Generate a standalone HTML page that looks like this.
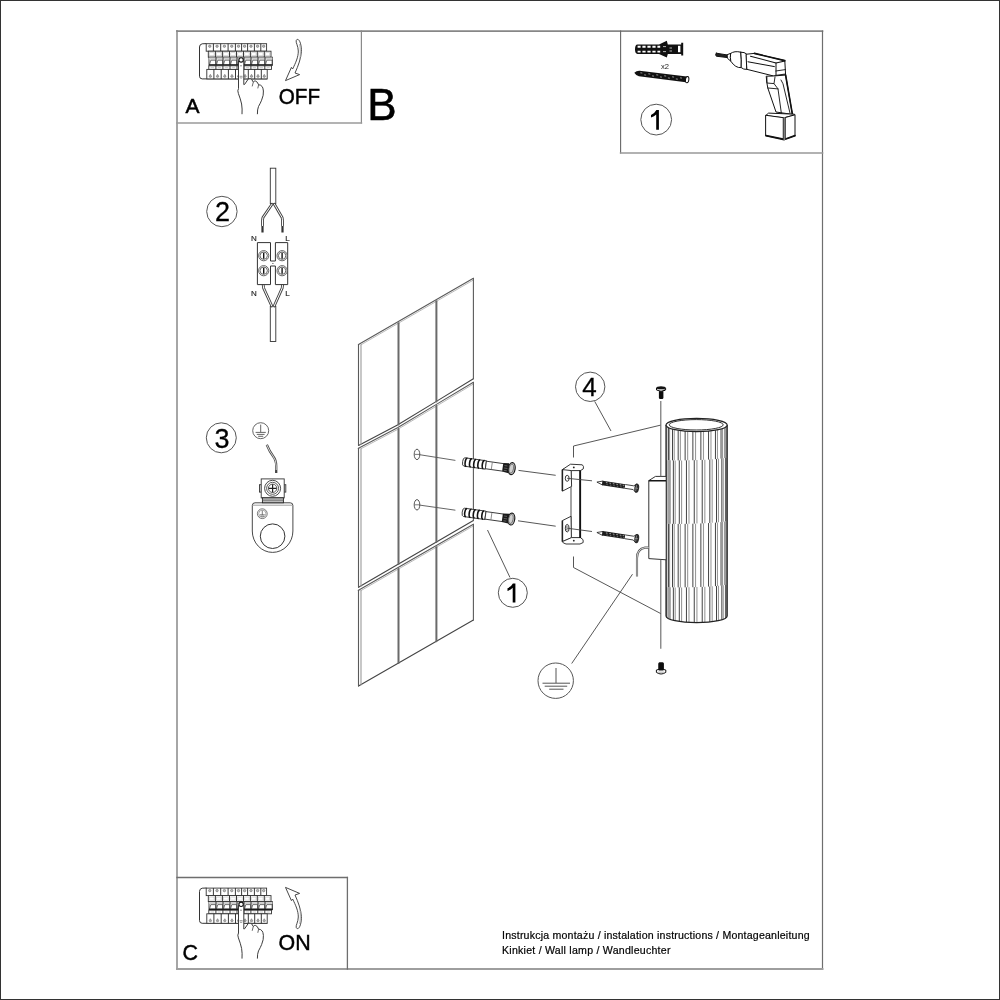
<!DOCTYPE html>
<html><head><meta charset="utf-8"><title>Installation</title>
<style>
html,body{margin:0;padding:0;background:#fff;}
body{width:1000px;height:1000px;overflow:hidden;position:relative;font-family:"Liberation Sans",sans-serif;}
#pg{position:absolute;left:0;top:0;width:998px;height:998px;border:1px solid #333;}
svg{position:absolute;left:0;top:0;filter:grayscale(1);}
svg text{font-family:"Liberation Sans",sans-serif;}
</style></head>
<body>
<div id="pg"></div>
<svg width="1000" height="1000" viewBox="0 0 1000 1000">
<g fill="none" stroke-linecap="square">
  <line x1="177" y1="31" x2="177" y2="969" stroke="#a6a6a6" stroke-width="2"/>
  <line x1="177" y1="31.1" x2="822.5" y2="31.1" stroke="#878787" stroke-width="1.6"/>
  <line x1="822.5" y1="31" x2="822.5" y2="969" stroke="#6e6e6e" stroke-width="1.2"/>
  <line x1="177" y1="969" x2="822.5" y2="969" stroke="#9e9e9e" stroke-width="1.9"/>
  <line x1="361.4" y1="31" x2="361.4" y2="123" stroke="#8a8a8a" stroke-width="1.2"/>
  <line x1="177" y1="123" x2="361.4" y2="123" stroke="#9a9a9a" stroke-width="1.6"/>
  <line x1="620.6" y1="31" x2="620.6" y2="153" stroke="#666" stroke-width="1.1"/>
  <line x1="620.6" y1="153" x2="822.5" y2="153" stroke="#999" stroke-width="1.6"/>
  <line x1="177" y1="877.5" x2="347.4" y2="877.5" stroke="#6e6e6e" stroke-width="1.3"/>
  <line x1="347.4" y1="877.5" x2="347.4" y2="969" stroke="#6e6e6e" stroke-width="1.3"/>
</g>
<g fill="#000">
  <text x="185.5" y="113.2" font-size="21" stroke="#000" stroke-width="0.5">A</text>
  <text transform="translate(278.8,104.2) scale(0.97,1)" font-size="21.3" stroke="#000" stroke-width="0.45">OFF</text>
  <text x="367.3" y="120.2" font-size="44" stroke="#000" stroke-width="0.6">B</text>
  <text x="182.6" y="959.6" font-size="21.4" stroke="#000" stroke-width="0.45">C</text>
  <text x="278.6" y="949.5" font-size="21.4" stroke="#000" stroke-width="0.45">ON</text>
  <text x="502" y="939.2" font-size="10.6" letter-spacing="0.2" stroke="#000" stroke-width="0.2">Instrukcja montażu / instalation instructions / Montageanleitung</text>
  <text x="502" y="953.5" font-size="10.6" letter-spacing="0.24" stroke="#000" stroke-width="0.2">Kinkiet / Wall lamp / Wandleuchter</text>
</g>
<g fill="none" stroke="#555" stroke-width="1">
  <circle cx="221.9" cy="211.5" r="15.2"/>
  <circle cx="221.3" cy="437.8" r="15"/>
  <circle cx="656.2" cy="119.6" r="15.4"/>
  <circle cx="512.8" cy="592.8" r="14.5"/>
  <circle cx="590.2" cy="386.8" r="14.7"/>
</g>
<g fill="#000" stroke="#000" stroke-width="0.3" font-size="27" text-anchor="middle">
  <text x="222.5" y="221">2</text>
  <text x="222" y="447.5">3</text>
  <text x="589.6" y="395.8" font-size="26">4</text>
</g>
<path transform="translate(656.4,119.6)" d="M2.5,-9.5 L2.5,10.2 L-0.2,10.2 L-0.2,-5.2 Q-2,-3.2 -5.4,-2 L-5.4,-4.7 Q-1.6,-6.3 0,-9.5 Z" fill="#000"/>
<path transform="translate(512.8,593)" d="M2.6,-9.5 L2.6,9.6 L-0.1,9.6 L-0.1,-5.2 Q-1.9,-3.2 -5.3,-2 L-5.3,-4.7 Q-1.5,-6.3 0.1,-9.5 Z" fill="#000"/>
<g fill="none" stroke="#5a5a5a" stroke-width="1.1" stroke-linecap="round">
<polyline points="358.50,344.50 473.40,278.30"/>
<polyline points="361.00,344.76 473.40,280.00" stroke="#a8a8a8" stroke-width="0.8"/>
<polyline points="358.50,445.40 397.50,425.00 436.40,401.40 473.40,378.80" stroke="#444"/>
<line x1="358.5" y1="344.5" x2="358.5" y2="445.4"/>
<line x1="361.0" y1="344.76" x2="361.0" y2="444.39" stroke="#9a9a9a" stroke-width="1.1"/>
<line x1="473.4" y1="278.3" x2="473.4" y2="378.8"/>
<line x1="398.5" y1="323.15" x2="398.5" y2="424.39" stroke="#6a6a6a" stroke-width="2"/>
<line x1="436.4" y1="301.32" x2="436.4" y2="401.40" stroke="#6a6a6a" stroke-width="2"/>
<polyline points="358.50,448.30 397.50,427.80 436.40,404.40 473.40,382.30"/>
<polyline points="361.00,448.69 397.50,429.50 436.40,406.10 473.40,384.00" stroke="#a8a8a8" stroke-width="0.8"/>
<polyline points="358.50,587.30 473.40,520.60" stroke="#444"/>
<line x1="358.5" y1="448.3" x2="358.5" y2="587.3"/>
<line x1="361.0" y1="448.69" x2="361.0" y2="586.15" stroke="#9a9a9a" stroke-width="1.1"/>
<line x1="473.4" y1="382.3" x2="473.4" y2="520.6"/>
<line x1="398.5" y1="428.90" x2="398.5" y2="564.08" stroke="#6a6a6a" stroke-width="2"/>
<line x1="436.4" y1="406.10" x2="436.4" y2="542.08" stroke="#6a6a6a" stroke-width="2"/>
<polyline points="358.50,590.30 473.40,524.20"/>
<polyline points="361.00,590.56 473.40,525.90" stroke="#a8a8a8" stroke-width="0.8"/>
<polyline points="358.50,686.00 473.40,620.00" stroke="#444"/>
<line x1="358.5" y1="590.3" x2="358.5" y2="686.0"/>
<line x1="361.0" y1="590.56" x2="361.0" y2="684.86" stroke="#9a9a9a" stroke-width="1.1"/>
<line x1="473.4" y1="524.2" x2="473.4" y2="620.0"/>
<line x1="398.5" y1="568.99" x2="398.5" y2="663.02" stroke="#6a6a6a" stroke-width="2"/>
<line x1="436.4" y1="547.19" x2="436.4" y2="641.25" stroke="#6a6a6a" stroke-width="2"/>
</g>
<g fill="none" stroke="#444" stroke-width="0.9">
<ellipse cx="417" cy="454.4" rx="2.8" ry="5.2" fill="#fff"/>
<line x1="414.5" y1="454.4" x2="419.5" y2="454.4" stroke-width="0.7"/>
<line x1="419" y1="454.59999999999997" x2="455.4" y2="460.4" stroke="#555"/>
<ellipse cx="417" cy="504.8" rx="2.8" ry="5.2" fill="#fff"/>
<line x1="414.5" y1="504.8" x2="419.5" y2="504.8" stroke-width="0.7"/>
<line x1="419" y1="505.0" x2="455.4" y2="510.2" stroke="#555"/>
</g>
<g transform="translate(462.6,461.7) rotate(8.0)">
<path d="M1.8,-4.2 L23.5,-4.2 L23.5,4.2 L1.8,4.2 A1.8,4.2 0 0 1 1.8,-4.2Z" fill="#fff" stroke="#333" stroke-width="0.9"/>
<rect x="23.5" y="-3.8" width="17.5" height="7.6" fill="#fff"/>
<path d="M23.5,-3.8 L41,-3.8 M23.5,3.8 L41,3.8 M23.5,-4.2 L23.5,4.2" fill="none" stroke="#333" stroke-width="0.9"/>
<line x1="29.5" y1="-3.6" x2="29.5" y2="3.6" stroke="#666" stroke-width="0.7"/>
<path d="M4.3,-4.1 A1.7,4.1 0 0 0 4.3,4.1" fill="none" stroke="#111" stroke-width="1.6"/>
<path d="M8.8,-4.1 A1.7,4.1 0 0 0 8.8,4.1" fill="none" stroke="#111" stroke-width="1.6"/>
<path d="M13.0,-4.1 A1.7,4.1 0 0 0 13.0,4.1" fill="none" stroke="#111" stroke-width="1.6"/>
<path d="M17.2,-4.1 A1.7,4.1 0 0 0 17.2,4.1" fill="none" stroke="#111" stroke-width="1.6"/>
<path d="M21.6,-4.1 A1.7,4.1 0 0 0 21.6,4.1" fill="none" stroke="#111" stroke-width="1.6"/>
<path d="M40.5,-4.3 L47,-5 L47,5 L40.5,4.3Z" fill="#1a1a1a"/>
<path d="M42,-2 L45,-2 M42,0.5 L45.5,0.5 M42,2.8 L45,2.8" stroke="#777" stroke-width="0.7"/>
<ellipse cx="49.6" cy="0" rx="3.4" ry="6" fill="#d0d0d0" stroke="#1a1a1a" stroke-width="1.2"/>
<ellipse cx="49.2" cy="0" rx="2.2" ry="4.6" fill="none" stroke="#555" stroke-width="0.7"/>
</g>
<g transform="translate(462.2,512.1) rotate(8.0)">
<path d="M1.8,-4.2 L23.5,-4.2 L23.5,4.2 L1.8,4.2 A1.8,4.2 0 0 1 1.8,-4.2Z" fill="#fff" stroke="#333" stroke-width="0.9"/>
<rect x="23.5" y="-3.8" width="17.5" height="7.6" fill="#fff"/>
<path d="M23.5,-3.8 L41,-3.8 M23.5,3.8 L41,3.8 M23.5,-4.2 L23.5,4.2" fill="none" stroke="#333" stroke-width="0.9"/>
<line x1="29.5" y1="-3.6" x2="29.5" y2="3.6" stroke="#666" stroke-width="0.7"/>
<path d="M4.3,-4.1 A1.7,4.1 0 0 0 4.3,4.1" fill="none" stroke="#111" stroke-width="1.6"/>
<path d="M8.8,-4.1 A1.7,4.1 0 0 0 8.8,4.1" fill="none" stroke="#111" stroke-width="1.6"/>
<path d="M13.0,-4.1 A1.7,4.1 0 0 0 13.0,4.1" fill="none" stroke="#111" stroke-width="1.6"/>
<path d="M17.2,-4.1 A1.7,4.1 0 0 0 17.2,4.1" fill="none" stroke="#111" stroke-width="1.6"/>
<path d="M21.6,-4.1 A1.7,4.1 0 0 0 21.6,4.1" fill="none" stroke="#111" stroke-width="1.6"/>
<path d="M40.5,-4.3 L47,-5 L47,5 L40.5,4.3Z" fill="#1a1a1a"/>
<path d="M42,-2 L45,-2 M42,0.5 L45.5,0.5 M42,2.8 L45,2.8" stroke="#777" stroke-width="0.7"/>
<ellipse cx="49.6" cy="0" rx="3.4" ry="6" fill="#d0d0d0" stroke="#1a1a1a" stroke-width="1.2"/>
<ellipse cx="49.2" cy="0" rx="2.2" ry="4.6" fill="none" stroke="#555" stroke-width="0.7"/>
</g>
<g stroke="#444" stroke-width="0.9" fill="none">
<line x1="518.5" y1="470.4" x2="555.7" y2="475.3"/>
<line x1="518" y1="520.8" x2="555.7" y2="526.2"/>
</g>
<g stroke="#222" stroke-width="0.9" fill="#fff" stroke-linejoin="round">
<path d="M571,470 L580,470 L580,538 L571,538 Z" fill="#fff" stroke="#333"/>
<path d="M562.4,469.6 L571,465.2 L571.6,486.4 L562.4,491.2 Z"/>
<path d="M562.4,520.6 L571,516.3 L571.4,537.8 L562.4,541.6 Z"/>
<path d="M562.4,469.6 L570.5,464.2 L582.3,464.8 Q584.3,466.5 583.2,469 L580.4,470.6 L571.5,470.6 Z"/>
<path d="M562.4,541.6 L571.5,537.6 L580.4,537.6 Q584.3,539.3 583.2,542.5 L580,544 L566,544 Q562.4,543 562.4,541.6 Z"/>
</g>
<g fill="none">
<line x1="580.2" y1="470.5" x2="580.2" y2="538" stroke="#111" stroke-width="1.8"/>
<line x1="562.4" y1="469.6" x2="562.4" y2="491" stroke="#222" stroke-width="1.5"/>
<line x1="562.4" y1="520.6" x2="562.4" y2="541.6" stroke="#222" stroke-width="1.5"/>
<ellipse cx="567.2" cy="478.3" rx="1.9" ry="3" stroke="#222" stroke-width="0.9"/>
<ellipse cx="567.2" cy="528.2" rx="1.9" ry="3.8" stroke="#222" stroke-width="0.9"/>
<ellipse cx="567.2" cy="528.2" rx="0.9" ry="2.4" stroke="#555" stroke-width="0.6"/>
<circle cx="573.8" cy="467.4" r="0.9" fill="#222"/>
<circle cx="573.8" cy="540.7" r="0.9" fill="#222"/>
<line x1="567.2" y1="478.3" x2="592" y2="480.8" stroke="#444" stroke-width="0.9"/>
<line x1="567.2" y1="528.2" x2="592" y2="531.5" stroke="#444" stroke-width="0.9"/>
</g>
<g transform="translate(596.9,482.1) rotate(8.7)">
<path d="M0,0 L6,-2 L6,2 Z" fill="#fff" stroke="#222" stroke-width="0.8"/>
<rect x="5.5" y="-2.3" width="23" height="4.6" fill="#1c1c1c"/>
<line x1="9" y1="-0.9" x2="10.6" y2="-0.9" stroke="#bbb" stroke-width="0.8"/>
<line x1="9.8" y1="1.0" x2="11.2" y2="1.0" stroke="#999" stroke-width="0.6"/>
<line x1="12.5" y1="-0.9" x2="14.1" y2="-0.9" stroke="#bbb" stroke-width="0.8"/>
<line x1="13.3" y1="1.0" x2="14.7" y2="1.0" stroke="#999" stroke-width="0.6"/>
<line x1="16" y1="-0.9" x2="17.6" y2="-0.9" stroke="#bbb" stroke-width="0.8"/>
<line x1="16.8" y1="1.0" x2="18.2" y2="1.0" stroke="#999" stroke-width="0.6"/>
<line x1="19.5" y1="-0.9" x2="21.1" y2="-0.9" stroke="#bbb" stroke-width="0.8"/>
<line x1="20.3" y1="1.0" x2="21.7" y2="1.0" stroke="#999" stroke-width="0.6"/>
<line x1="23" y1="-0.9" x2="24.6" y2="-0.9" stroke="#bbb" stroke-width="0.8"/>
<line x1="23.8" y1="1.0" x2="25.2" y2="1.0" stroke="#999" stroke-width="0.6"/>
<line x1="26" y1="-0.9" x2="27.6" y2="-0.9" stroke="#bbb" stroke-width="0.8"/>
<line x1="26.8" y1="1.0" x2="28.2" y2="1.0" stroke="#999" stroke-width="0.6"/>
<path d="M28.5,-1.9 L37,-1.9 L40,-4.3 L40,4.3 L37,1.9 L28.5,1.9" fill="#fff" stroke="#222" stroke-width="0.8"/>
<ellipse cx="40.3" cy="0" rx="2.4" ry="4.6" fill="#2a2a2a"/>
<path d="M39.7,-3 L39.7,3 M38.6,0 L41.6,0" stroke="#aaa" stroke-width="0.6"/>
</g>
<g transform="translate(596.9,532.5) rotate(8.7)">
<path d="M0,0 L6,-2 L6,2 Z" fill="#fff" stroke="#222" stroke-width="0.8"/>
<rect x="5.5" y="-2.3" width="23" height="4.6" fill="#1c1c1c"/>
<line x1="9" y1="-0.9" x2="10.6" y2="-0.9" stroke="#bbb" stroke-width="0.8"/>
<line x1="9.8" y1="1.0" x2="11.2" y2="1.0" stroke="#999" stroke-width="0.6"/>
<line x1="12.5" y1="-0.9" x2="14.1" y2="-0.9" stroke="#bbb" stroke-width="0.8"/>
<line x1="13.3" y1="1.0" x2="14.7" y2="1.0" stroke="#999" stroke-width="0.6"/>
<line x1="16" y1="-0.9" x2="17.6" y2="-0.9" stroke="#bbb" stroke-width="0.8"/>
<line x1="16.8" y1="1.0" x2="18.2" y2="1.0" stroke="#999" stroke-width="0.6"/>
<line x1="19.5" y1="-0.9" x2="21.1" y2="-0.9" stroke="#bbb" stroke-width="0.8"/>
<line x1="20.3" y1="1.0" x2="21.7" y2="1.0" stroke="#999" stroke-width="0.6"/>
<line x1="23" y1="-0.9" x2="24.6" y2="-0.9" stroke="#bbb" stroke-width="0.8"/>
<line x1="23.8" y1="1.0" x2="25.2" y2="1.0" stroke="#999" stroke-width="0.6"/>
<line x1="26" y1="-0.9" x2="27.6" y2="-0.9" stroke="#bbb" stroke-width="0.8"/>
<line x1="26.8" y1="1.0" x2="28.2" y2="1.0" stroke="#999" stroke-width="0.6"/>
<path d="M28.5,-1.9 L37,-1.9 L40,-4.3 L40,4.3 L37,1.9 L28.5,1.9" fill="#fff" stroke="#222" stroke-width="0.8"/>
<ellipse cx="40.3" cy="0" rx="2.4" ry="4.6" fill="#2a2a2a"/>
<path d="M39.7,-3 L39.7,3 M38.6,0 L41.6,0" stroke="#aaa" stroke-width="0.6"/>
</g>
<clipPath id="lampclip"><path d="M666.0,425.0 L666.0,616.0 A30.6,6.6 0 0 0 727.2,616.0 L727.2,425.0 Z"/></clipPath>
<path d="M666.0,425.0 L666.0,616.0 A30.6,6.6 0 0 0 727.2,616.0 L727.2,425.0 Z" fill="#fff" stroke="none"/>
<g clip-path="url(#lampclip)">
<line x1="666.30" y1="425.00" x2="666.30" y2="460.09" stroke="#2e2e2e" stroke-width="0.9"/>
<line x1="666.78" y1="425.00" x2="666.78" y2="460.14" stroke="#9a9a9a" stroke-width="1.1"/>
<line x1="668.43" y1="425.00" x2="668.43" y2="460.24" stroke="#2e2e2e" stroke-width="0.9"/>
<line x1="669.58" y1="425.00" x2="669.58" y2="460.28" stroke="#9a9a9a" stroke-width="1.1"/>
<line x1="672.49" y1="425.00" x2="672.49" y2="460.35" stroke="#2e2e2e" stroke-width="0.9"/>
<line x1="674.22" y1="425.00" x2="674.22" y2="460.37" stroke="#9a9a9a" stroke-width="1.1"/>
<line x1="678.18" y1="425.00" x2="678.18" y2="460.39" stroke="#2e2e2e" stroke-width="0.9"/>
<line x1="680.38" y1="425.00" x2="680.38" y2="460.39" stroke="#9a9a9a" stroke-width="1.1"/>
<line x1="685.14" y1="425.00" x2="685.14" y2="460.35" stroke="#2e2e2e" stroke-width="0.9"/>
<line x1="687.65" y1="425.00" x2="687.65" y2="460.31" stroke="#9a9a9a" stroke-width="1.1"/>
<line x1="692.87" y1="425.00" x2="692.87" y2="460.20" stroke="#2e2e2e" stroke-width="0.9"/>
<line x1="695.53" y1="425.00" x2="695.53" y2="460.13" stroke="#9a9a9a" stroke-width="1.1"/>
<line x1="700.86" y1="425.00" x2="700.86" y2="459.95" stroke="#2e2e2e" stroke-width="0.9"/>
<line x1="703.48" y1="425.00" x2="703.48" y2="459.84" stroke="#9a9a9a" stroke-width="1.1"/>
<line x1="708.56" y1="425.00" x2="708.56" y2="459.59" stroke="#2e2e2e" stroke-width="0.9"/>
<line x1="710.97" y1="425.00" x2="710.97" y2="459.45" stroke="#9a9a9a" stroke-width="1.1"/>
<line x1="715.44" y1="425.00" x2="715.44" y2="459.13" stroke="#2e2e2e" stroke-width="0.9"/>
<line x1="717.47" y1="425.00" x2="717.47" y2="458.95" stroke="#9a9a9a" stroke-width="1.1"/>
<line x1="721.04" y1="425.00" x2="721.04" y2="458.58" stroke="#2e2e2e" stroke-width="0.9"/>
<line x1="722.55" y1="425.00" x2="722.55" y2="458.38" stroke="#9a9a9a" stroke-width="1.1"/>
<line x1="724.97" y1="425.00" x2="724.97" y2="457.97" stroke="#2e2e2e" stroke-width="0.9"/>
<line x1="725.86" y1="425.00" x2="725.86" y2="457.75" stroke="#9a9a9a" stroke-width="1.1"/>
<line x1="726.97" y1="425.00" x2="726.97" y2="457.31" stroke="#2e2e2e" stroke-width="0.9"/>
<line x1="727.18" y1="425.00" x2="727.18" y2="457.09" stroke="#9a9a9a" stroke-width="1.1"/>
<line x1="666.52" y1="460.12" x2="666.52" y2="523.62" stroke="#2e2e2e" stroke-width="0.9"/>
<line x1="667.13" y1="460.17" x2="667.13" y2="523.67" stroke="#9a9a9a" stroke-width="1.1"/>
<line x1="669.00" y1="460.26" x2="669.00" y2="523.76" stroke="#2e2e2e" stroke-width="0.9"/>
<line x1="670.26" y1="460.30" x2="670.26" y2="523.80" stroke="#9a9a9a" stroke-width="1.1"/>
<line x1="673.37" y1="460.36" x2="673.37" y2="523.86" stroke="#2e2e2e" stroke-width="0.9"/>
<line x1="675.19" y1="460.38" x2="675.19" y2="523.88" stroke="#9a9a9a" stroke-width="1.1"/>
<line x1="679.31" y1="460.39" x2="679.31" y2="523.89" stroke="#2e2e2e" stroke-width="0.9"/>
<line x1="681.58" y1="460.38" x2="681.58" y2="523.88" stroke="#9a9a9a" stroke-width="1.1"/>
<line x1="686.44" y1="460.33" x2="686.44" y2="523.83" stroke="#2e2e2e" stroke-width="0.9"/>
<line x1="688.99" y1="460.29" x2="688.99" y2="523.79" stroke="#9a9a9a" stroke-width="1.1"/>
<line x1="694.25" y1="460.17" x2="694.25" y2="523.67" stroke="#2e2e2e" stroke-width="0.9"/>
<line x1="696.92" y1="460.09" x2="696.92" y2="523.59" stroke="#9a9a9a" stroke-width="1.1"/>
<line x1="702.23" y1="459.90" x2="702.23" y2="523.40" stroke="#2e2e2e" stroke-width="0.9"/>
<line x1="704.83" y1="459.78" x2="704.83" y2="523.28" stroke="#9a9a9a" stroke-width="1.1"/>
<line x1="709.82" y1="459.52" x2="709.82" y2="523.02" stroke="#2e2e2e" stroke-width="0.9"/>
<line x1="712.18" y1="459.37" x2="712.18" y2="522.87" stroke="#9a9a9a" stroke-width="1.1"/>
<line x1="716.51" y1="459.04" x2="716.51" y2="522.54" stroke="#2e2e2e" stroke-width="0.9"/>
<line x1="718.46" y1="458.86" x2="718.46" y2="522.36" stroke="#9a9a9a" stroke-width="1.1"/>
<line x1="721.85" y1="458.48" x2="721.85" y2="521.98" stroke="#2e2e2e" stroke-width="0.9"/>
<line x1="723.26" y1="458.28" x2="723.26" y2="521.78" stroke="#9a9a9a" stroke-width="1.1"/>
<line x1="725.46" y1="457.85" x2="725.46" y2="521.35" stroke="#2e2e2e" stroke-width="0.9"/>
<line x1="726.24" y1="457.64" x2="726.24" y2="521.14" stroke="#9a9a9a" stroke-width="1.1"/>
<line x1="727.11" y1="457.20" x2="727.11" y2="520.70" stroke="#2e2e2e" stroke-width="0.9"/>
<line x1="666.30" y1="523.59" x2="666.30" y2="587.09" stroke="#2e2e2e" stroke-width="0.9"/>
<line x1="666.78" y1="523.64" x2="666.78" y2="587.14" stroke="#9a9a9a" stroke-width="1.1"/>
<line x1="668.43" y1="523.74" x2="668.43" y2="587.24" stroke="#2e2e2e" stroke-width="0.9"/>
<line x1="669.58" y1="523.78" x2="669.58" y2="587.28" stroke="#9a9a9a" stroke-width="1.1"/>
<line x1="672.49" y1="523.85" x2="672.49" y2="587.35" stroke="#2e2e2e" stroke-width="0.9"/>
<line x1="674.22" y1="523.87" x2="674.22" y2="587.37" stroke="#9a9a9a" stroke-width="1.1"/>
<line x1="678.18" y1="523.89" x2="678.18" y2="587.39" stroke="#2e2e2e" stroke-width="0.9"/>
<line x1="680.38" y1="523.89" x2="680.38" y2="587.39" stroke="#9a9a9a" stroke-width="1.1"/>
<line x1="685.14" y1="523.85" x2="685.14" y2="587.35" stroke="#2e2e2e" stroke-width="0.9"/>
<line x1="687.65" y1="523.81" x2="687.65" y2="587.31" stroke="#9a9a9a" stroke-width="1.1"/>
<line x1="692.87" y1="523.70" x2="692.87" y2="587.20" stroke="#2e2e2e" stroke-width="0.9"/>
<line x1="695.53" y1="523.63" x2="695.53" y2="587.13" stroke="#9a9a9a" stroke-width="1.1"/>
<line x1="700.86" y1="523.45" x2="700.86" y2="586.95" stroke="#2e2e2e" stroke-width="0.9"/>
<line x1="703.48" y1="523.34" x2="703.48" y2="586.84" stroke="#9a9a9a" stroke-width="1.1"/>
<line x1="708.56" y1="523.09" x2="708.56" y2="586.59" stroke="#2e2e2e" stroke-width="0.9"/>
<line x1="710.97" y1="522.95" x2="710.97" y2="586.45" stroke="#9a9a9a" stroke-width="1.1"/>
<line x1="715.44" y1="522.63" x2="715.44" y2="586.13" stroke="#2e2e2e" stroke-width="0.9"/>
<line x1="717.47" y1="522.45" x2="717.47" y2="585.95" stroke="#9a9a9a" stroke-width="1.1"/>
<line x1="721.04" y1="522.08" x2="721.04" y2="585.58" stroke="#2e2e2e" stroke-width="0.9"/>
<line x1="722.55" y1="521.88" x2="722.55" y2="585.38" stroke="#9a9a9a" stroke-width="1.1"/>
<line x1="724.97" y1="521.47" x2="724.97" y2="584.97" stroke="#2e2e2e" stroke-width="0.9"/>
<line x1="725.86" y1="521.25" x2="725.86" y2="584.75" stroke="#9a9a9a" stroke-width="1.1"/>
<line x1="726.97" y1="520.81" x2="726.97" y2="584.31" stroke="#2e2e2e" stroke-width="0.9"/>
<line x1="727.18" y1="520.59" x2="727.18" y2="584.09" stroke="#9a9a9a" stroke-width="1.1"/>
<line x1="666.52" y1="587.12" x2="666.52" y2="618.21" stroke="#2e2e2e" stroke-width="0.9"/>
<line x1="667.13" y1="587.17" x2="667.13" y2="618.77" stroke="#9a9a9a" stroke-width="1.1"/>
<line x1="669.00" y1="587.26" x2="669.00" y2="619.85" stroke="#2e2e2e" stroke-width="0.9"/>
<line x1="670.26" y1="587.30" x2="670.26" y2="620.36" stroke="#9a9a9a" stroke-width="1.1"/>
<line x1="673.37" y1="587.36" x2="673.37" y2="621.30" stroke="#2e2e2e" stroke-width="0.9"/>
<line x1="675.19" y1="587.38" x2="675.19" y2="621.72" stroke="#9a9a9a" stroke-width="1.1"/>
<line x1="679.31" y1="587.39" x2="679.31" y2="622.45" stroke="#2e2e2e" stroke-width="0.9"/>
<line x1="681.58" y1="587.38" x2="681.58" y2="622.75" stroke="#9a9a9a" stroke-width="1.1"/>
<line x1="686.44" y1="587.33" x2="686.44" y2="623.23" stroke="#2e2e2e" stroke-width="0.9"/>
<line x1="688.99" y1="587.29" x2="688.99" y2="623.39" stroke="#9a9a9a" stroke-width="1.1"/>
<line x1="694.25" y1="587.17" x2="694.25" y2="623.58" stroke="#2e2e2e" stroke-width="0.9"/>
<line x1="696.92" y1="587.09" x2="696.92" y2="623.60" stroke="#9a9a9a" stroke-width="1.1"/>
<line x1="702.23" y1="586.90" x2="702.23" y2="623.49" stroke="#2e2e2e" stroke-width="0.9"/>
<line x1="704.83" y1="586.78" x2="704.83" y2="623.36" stroke="#9a9a9a" stroke-width="1.1"/>
<line x1="709.82" y1="586.52" x2="709.82" y2="622.95" stroke="#2e2e2e" stroke-width="0.9"/>
<line x1="712.18" y1="586.37" x2="712.18" y2="622.68" stroke="#9a9a9a" stroke-width="1.1"/>
<line x1="716.51" y1="586.04" x2="716.51" y2="622.01" stroke="#2e2e2e" stroke-width="0.9"/>
<line x1="718.46" y1="585.86" x2="718.46" y2="621.62" stroke="#9a9a9a" stroke-width="1.1"/>
<line x1="721.85" y1="585.48" x2="721.85" y2="620.73" stroke="#2e2e2e" stroke-width="0.9"/>
<line x1="723.26" y1="585.28" x2="723.26" y2="620.24" stroke="#9a9a9a" stroke-width="1.1"/>
<line x1="725.46" y1="584.85" x2="725.46" y2="619.19" stroke="#2e2e2e" stroke-width="0.9"/>
<line x1="726.24" y1="584.64" x2="726.24" y2="618.64" stroke="#9a9a9a" stroke-width="1.1"/>
<line x1="727.11" y1="584.20" x2="727.11" y2="617.51" stroke="#2e2e2e" stroke-width="0.9"/>
</g>
<path d="M666.0,425.0 L666.0,616.0 A30.6,6.6 0 0 0 727.2,616.0 L727.2,425.0" fill="none" stroke="#222" stroke-width="1.2"/>
<ellipse cx="696.6" cy="425.0" rx="30.6" ry="6.6" fill="#fff" stroke="#222" stroke-width="1.2"/>
<ellipse cx="696.2" cy="424.8" rx="27.0" ry="5.199999999999999" fill="#fff" stroke="#333" stroke-width="1"/>
<g stroke="#333" stroke-width="1" fill="#fff" stroke-linejoin="round">
<path d="M648.8,480.6 L655.5,476.4 L666.2,476.4 L666.2,480.6 Z"/>
<path d="M648.8,480.6 L666.2,480.6 L666.2,559.8 L648.8,558.6 Z"/>
</g>
<line x1="648.8" y1="480.8" x2="666" y2="480.8" stroke="#111" stroke-width="1.3"/>
<path d="M648.6,547.6 L645,547.6 Q637,549 637,558 L637,576.6" fill="none" stroke="#555" stroke-width="2.1"/>
<path d="M648.6,547.6 L645,547.6 Q637,549 637,558 L637,576.6" fill="none" stroke="#fff" stroke-width="0.7"/>

<g stroke="#666" stroke-width="1.1" fill="none">
<line x1="660.8" y1="401" x2="660.8" y2="476.4"/>
<line x1="660.8" y1="559.5" x2="660.8" y2="648.8"/>
</g>
<g>
<rect x="658.9" y="390.6" width="4.5" height="8.3" rx="1.2" fill="#0d0d0d"/>
<path d="M656.5,387.8 L656.5,390 Q661,392.6 665.6,390 L665.6,387.8" fill="#e8e8e8" stroke="#111" stroke-width="1"/>
<ellipse cx="661" cy="387.7" rx="4.5" ry="1.5" fill="#111"/>
<circle cx="664.3" cy="390.2" r="0.8" fill="#000"/>
<rect x="658.5" y="662.6" width="5.2" height="8" rx="1.2" fill="#0d0d0d"/>
<path d="M656.4,670 L656.4,672.4 Q661,675.6 665.8,672.4 L665.8,670 Q661,667.6 656.4,670 Z" fill="#fff" stroke="#111" stroke-width="1"/>
<path d="M658,672.2 L664,672.2" stroke="#bbb" stroke-width="1.2"/>
<rect x="658.5" y="662.6" width="5.2" height="8" rx="1.2" fill="#0d0d0d"/>
</g>
<g stroke="#444" stroke-width="0.9" fill="none">
<path d="M573.5,457.5 L573.5,446 L660.4,425.2"/>
<path d="M573.5,556.5 L573.5,567.5 L660.6,613.5"/>
<line x1="594.7" y1="401.4" x2="611" y2="431"/>
<line x1="487.5" y1="530" x2="510" y2="577.5"/>
<line x1="571.7" y1="663.5" x2="632.5" y2="574.2"/>
</g>
<g stroke="#555" stroke-width="1" fill="none">
<circle cx="555.7" cy="680.7" r="17.7"/>
<line x1="556" y1="668" x2="556" y2="683"/>
<line x1="542.5" y1="683.2" x2="570" y2="683.2"/>
<line x1="544.7" y1="686.2" x2="567.2" y2="686.2"/>
<line x1="549.2" y1="689.2" x2="563.5" y2="689.2"/>
</g>
<g><path d="M206.5,43.6 L202.2,43.8 Q199.5,44.3 199.5,47 L199.5,76.2 Q199.5,78.8 202.2,78.9 L267.2,78.9" fill="none" stroke="#333" stroke-width="1"/>
<rect x="206.2" y="43.7" width="60.4" height="7.5" fill="#fff" stroke="#333" stroke-width="0.9"/>
<circle cx="209.80" cy="46.2" r="1.2" fill="#bbb" stroke="#666" stroke-width="0.6"/>
<line x1="213.4" y1="43.7" x2="213.4" y2="51.2" stroke="#222" stroke-width="0.9"/>
<circle cx="217.05" cy="46.2" r="1.2" fill="#bbb" stroke="#666" stroke-width="0.6"/>
<line x1="220.7" y1="43.7" x2="220.7" y2="51.2" stroke="#222" stroke-width="0.9"/>
<circle cx="224.40" cy="46.2" r="1.2" fill="#bbb" stroke="#666" stroke-width="0.6"/>
<line x1="228.1" y1="43.7" x2="228.1" y2="51.2" stroke="#222" stroke-width="0.9"/>
<circle cx="231.75" cy="46.2" r="1.2" fill="#bbb" stroke="#666" stroke-width="0.6"/>
<line x1="235.4" y1="43.7" x2="235.4" y2="51.2" stroke="#222" stroke-width="0.9"/>
<circle cx="238.50" cy="46.2" r="1.2" fill="#bbb" stroke="#666" stroke-width="0.6"/>
<line x1="241.6" y1="43.7" x2="241.6" y2="51.2" stroke="#222" stroke-width="0.9"/>
<circle cx="244.60" cy="46.2" r="1.2" fill="#bbb" stroke="#666" stroke-width="0.6"/>
<line x1="247.6" y1="43.7" x2="247.6" y2="51.2" stroke="#222" stroke-width="0.9"/>
<circle cx="251.00" cy="46.2" r="1.2" fill="#bbb" stroke="#666" stroke-width="0.6"/>
<line x1="254.4" y1="43.7" x2="254.4" y2="51.2" stroke="#222" stroke-width="0.9"/>
<circle cx="257.60" cy="46.2" r="1.2" fill="#bbb" stroke="#666" stroke-width="0.6"/>
<line x1="260.8" y1="43.7" x2="260.8" y2="51.2" stroke="#222" stroke-width="0.9"/>
<circle cx="263.70" cy="46.2" r="1.2" fill="#bbb" stroke="#666" stroke-width="0.6"/>
<rect x="208.3" y="51.2" width="62.7" height="6" fill="#fff" stroke="#333" stroke-width="0.9"/>
<rect x="209.60" y="52.7" width="4.50" height="3" fill="none" stroke="#c8c8c8" stroke-width="0.6"/>
<line x1="215.4" y1="51.2" x2="215.4" y2="57.2" stroke="#222" stroke-width="0.9"/>
<rect x="216.70" y="52.7" width="4.40" height="3" fill="none" stroke="#c8c8c8" stroke-width="0.6"/>
<line x1="222.4" y1="51.2" x2="222.4" y2="57.2" stroke="#222" stroke-width="0.9"/>
<rect x="223.70" y="52.7" width="4.50" height="3" fill="none" stroke="#c8c8c8" stroke-width="0.6"/>
<line x1="229.5" y1="51.2" x2="229.5" y2="57.2" stroke="#222" stroke-width="0.9"/>
<rect x="230.80" y="52.7" width="4.40" height="3" fill="none" stroke="#c8c8c8" stroke-width="0.6"/>
<line x1="236.5" y1="51.2" x2="236.5" y2="57.2" stroke="#222" stroke-width="0.9"/>
<rect x="237.80" y="52.7" width="4.40" height="3" fill="none" stroke="#c8c8c8" stroke-width="0.6"/>
<line x1="243.5" y1="51.2" x2="243.5" y2="57.2" stroke="#222" stroke-width="0.9"/>
<rect x="244.80" y="52.7" width="4.30" height="3" fill="none" stroke="#c8c8c8" stroke-width="0.6"/>
<line x1="250.4" y1="51.2" x2="250.4" y2="57.2" stroke="#222" stroke-width="0.9"/>
<rect x="251.70" y="52.7" width="4.30" height="3" fill="none" stroke="#c8c8c8" stroke-width="0.6"/>
<line x1="257.3" y1="51.2" x2="257.3" y2="57.2" stroke="#222" stroke-width="0.9"/>
<rect x="258.60" y="52.7" width="4.40" height="3" fill="none" stroke="#c8c8c8" stroke-width="0.6"/>
<line x1="264.3" y1="51.2" x2="264.3" y2="57.2" stroke="#222" stroke-width="0.9"/>
<rect x="265.60" y="52.7" width="4.10" height="3" fill="none" stroke="#c8c8c8" stroke-width="0.6"/>
<rect x="209.0" y="57.2" width="63.4" height="8" fill="#fff" stroke="#333" stroke-width="0.9"/>
<rect x="209.0" y="57.6" width="63.4" height="2" fill="#cfcfcf"/>
<path d="M209.60,64.2 L210.80,60.2 L215.70,60.2 L215.70,64.2" fill="#fff" stroke="#333" stroke-width="0.7"/>
<line x1="216.0" y1="57.2" x2="216.0" y2="65.2" stroke="#222" stroke-width="0.9"/>
<path d="M216.60,64.2 L217.80,60.2 L222.70,60.2 L222.70,64.2" fill="#fff" stroke="#333" stroke-width="0.7"/>
<line x1="223.0" y1="57.2" x2="223.0" y2="65.2" stroke="#222" stroke-width="0.9"/>
<path d="M223.60,64.2 L224.80,60.2 L229.70,60.2 L229.70,64.2" fill="#fff" stroke="#333" stroke-width="0.7"/>
<line x1="230.0" y1="57.2" x2="230.0" y2="65.2" stroke="#222" stroke-width="0.9"/>
<path d="M230.60,64.2 L231.80,60.2 L236.70,60.2 L236.70,64.2" fill="#fff" stroke="#333" stroke-width="0.7"/>
<line x1="237.0" y1="57.2" x2="237.0" y2="65.2" stroke="#222" stroke-width="0.9"/>
<path d="M237.60,64.2 L238.80,60.2 L243.70,60.2 L243.70,64.2" fill="#fff" stroke="#333" stroke-width="0.7"/>
<line x1="244.0" y1="57.2" x2="244.0" y2="65.2" stroke="#222" stroke-width="0.9"/>
<path d="M244.60,64.2 L245.80,60.2 L250.70,60.2 L250.70,64.2" fill="#fff" stroke="#333" stroke-width="0.7"/>
<line x1="251.0" y1="57.2" x2="251.0" y2="65.2" stroke="#222" stroke-width="0.9"/>
<path d="M251.60,64.2 L252.80,60.2 L257.70,60.2 L257.70,64.2" fill="#fff" stroke="#333" stroke-width="0.7"/>
<line x1="258.0" y1="57.2" x2="258.0" y2="65.2" stroke="#222" stroke-width="0.9"/>
<path d="M258.60,64.2 L259.80,60.2 L264.70,60.2 L264.70,64.2" fill="#fff" stroke="#333" stroke-width="0.7"/>
<line x1="265.0" y1="57.2" x2="265.0" y2="65.2" stroke="#222" stroke-width="0.9"/>
<path d="M265.60,64.2 L266.80,60.2 L272.10,60.2 L272.10,64.2" fill="#fff" stroke="#333" stroke-width="0.7"/>
<line x1="209.0" y1="65" x2="272.4" y2="65" stroke="#111" stroke-width="1.7"/>
<rect x="208.8" y="65.8" width="62.7" height="3.6" fill="#fff" stroke="#333" stroke-width="0.9"/>
<line x1="210.60" y1="67.6" x2="214.10" y2="67.6" stroke="#aaa" stroke-width="0.6"/>
<line x1="215.9" y1="65.8" x2="215.9" y2="69.4" stroke="#222" stroke-width="0.9"/>
<line x1="217.70" y1="67.6" x2="221.10" y2="67.6" stroke="#aaa" stroke-width="0.6"/>
<line x1="222.9" y1="65.8" x2="222.9" y2="69.4" stroke="#222" stroke-width="0.9"/>
<line x1="224.70" y1="67.6" x2="228.20" y2="67.6" stroke="#aaa" stroke-width="0.6"/>
<line x1="230.0" y1="65.8" x2="230.0" y2="69.4" stroke="#222" stroke-width="0.9"/>
<line x1="231.80" y1="67.6" x2="235.20" y2="67.6" stroke="#aaa" stroke-width="0.6"/>
<line x1="237.0" y1="65.8" x2="237.0" y2="69.4" stroke="#222" stroke-width="0.9"/>
<line x1="238.80" y1="67.6" x2="242.20" y2="67.6" stroke="#aaa" stroke-width="0.6"/>
<line x1="244.0" y1="65.8" x2="244.0" y2="69.4" stroke="#222" stroke-width="0.9"/>
<line x1="245.80" y1="67.6" x2="249.10" y2="67.6" stroke="#aaa" stroke-width="0.6"/>
<line x1="250.9" y1="65.8" x2="250.9" y2="69.4" stroke="#222" stroke-width="0.9"/>
<line x1="252.70" y1="67.6" x2="256.00" y2="67.6" stroke="#aaa" stroke-width="0.6"/>
<line x1="257.8" y1="65.8" x2="257.8" y2="69.4" stroke="#222" stroke-width="0.9"/>
<line x1="259.60" y1="67.6" x2="263.00" y2="67.6" stroke="#aaa" stroke-width="0.6"/>
<line x1="264.8" y1="65.8" x2="264.8" y2="69.4" stroke="#222" stroke-width="0.9"/>
<line x1="266.60" y1="67.6" x2="269.70" y2="67.6" stroke="#aaa" stroke-width="0.6"/>
<rect x="206.8" y="69.4" width="60.4" height="9.5" fill="#fff" stroke="#333" stroke-width="0.9"/>
<path d="M209.15,76.2 L210.35,74.3 L211.55,76.2 A1.2,1.2 0 0 1 209.15,76.2 Z" fill="#aaa" stroke="#666" stroke-width="0.5"/>
<line x1="213.9" y1="69.4" x2="213.9" y2="78.9" stroke="#222" stroke-width="0.9"/>
<path d="M216.35,76.2 L217.55,74.3 L218.75,76.2 A1.2,1.2 0 0 1 216.35,76.2 Z" fill="#aaa" stroke="#666" stroke-width="0.5"/>
<line x1="221.2" y1="69.4" x2="221.2" y2="78.9" stroke="#222" stroke-width="0.9"/>
<path d="M223.60,76.2 L224.80,74.3 L226.00,76.2 A1.2,1.2 0 0 1 223.60,76.2 Z" fill="#aaa" stroke="#666" stroke-width="0.5"/>
<line x1="228.4" y1="69.4" x2="228.4" y2="78.9" stroke="#222" stroke-width="0.9"/>
<path d="M230.75,76.2 L231.95,74.3 L233.15,76.2 A1.2,1.2 0 0 1 230.75,76.2 Z" fill="#aaa" stroke="#666" stroke-width="0.5"/>
<line x1="235.5" y1="69.4" x2="235.5" y2="78.9" stroke="#222" stroke-width="0.9"/>
<path d="M237.45,76.2 L238.65,74.3 L239.85,76.2 A1.2,1.2 0 0 1 237.45,76.2 Z" fill="#aaa" stroke="#666" stroke-width="0.5"/>
<line x1="241.8" y1="69.4" x2="241.8" y2="78.9" stroke="#222" stroke-width="0.9"/>
<path d="M243.85,76.2 L245.05,74.3 L246.25,76.2 A1.2,1.2 0 0 1 243.85,76.2 Z" fill="#aaa" stroke="#666" stroke-width="0.5"/>
<line x1="248.3" y1="69.4" x2="248.3" y2="78.9" stroke="#222" stroke-width="0.9"/>
<path d="M250.30,76.2 L251.50,74.3 L252.70,76.2 A1.2,1.2 0 0 1 250.30,76.2 Z" fill="#aaa" stroke="#666" stroke-width="0.5"/>
<line x1="254.7" y1="69.4" x2="254.7" y2="78.9" stroke="#222" stroke-width="0.9"/>
<path d="M256.80,76.2 L258.00,74.3 L259.20,76.2 A1.2,1.2 0 0 1 256.80,76.2 Z" fill="#aaa" stroke="#666" stroke-width="0.5"/>
<line x1="261.3" y1="69.4" x2="261.3" y2="78.9" stroke="#222" stroke-width="0.9"/>
<path d="M263.05,76.2 L264.25,74.3 L265.45,76.2 A1.2,1.2 0 0 1 263.05,76.2 Z" fill="#aaa" stroke="#666" stroke-width="0.5"/>
<path d="M238.5,61 L238.5,88.6 Q237.2,90.5 238.4,93.5 Q240.5,99 241.6,104 Q242.4,109 242,114.2 L257.4,114.2 Q257.3,109.5 258.5,106.5 Q260.5,103 261.6,100.2 Q263.8,95 263.4,91 Q263,87.5 262.2,86.6 Q260.6,84.6 258.6,84.8 Q257.6,81.6 255.4,81 Q254.2,80.8 253.3,82.1 L251.6,79.3 Q250.5,78.5 248.3,79 L244.6,84.4 L243.8,84.6 L243.8,61 Z" fill="#fff" stroke="none"/>
<path d="M238.5,61 L238.5,88.6 Q237.2,90.5 238.4,93.5 Q240.5,99 241.6,104 Q242.4,109 242,114.2 M257.4,114.2 Q257.3,109.5 258.5,106.5 Q260.5,103 261.6,100.2 Q263.8,95 263.4,91 Q263,87.5 262.2,86.6 Q260.6,84.6 258.6,84.8 Q257.6,81.6 255.4,81 Q254.2,80.8 253.3,82.1 L251.6,79.3 Q250.5,78.5 248.3,79 L244.6,84.4 L243.8,84.6 L243.8,61" fill="none" stroke="#333" stroke-width="0.95" stroke-linejoin="round"/>
<path d="M253.3,82.1 L252.2,86.4 M258.6,84.8 L257.8,88.4" fill="none" stroke="#444" stroke-width="0.8"/>
<circle cx="241.1" cy="59.9" r="2.2" fill="#fff" stroke="#111" stroke-width="1.1"/>
<path d="M240,65.8 L242,65.8" stroke="#777" stroke-width="0.8"/>
<path d="M239.6,76.3 L242.6,76.3 M239.8,77.6 Q241.1,78.6 242.4,77.6" fill="none" stroke="#666" stroke-width="0.7"/></g>
<path d="M297.6,39.4 C299.8,39.4 301.6,45.5 301.4,51.5 C301.1,58 298.2,66 295,73 L299.6,74.6 L285.5,80.6 L291.4,67.4 L292.6,69 C295.6,63 298.4,57 298.3,51 C298.2,46 295.6,42.5 296.2,40.6 Q296.6,39.4 297.6,39.4 Z" fill="#fff" stroke="#333" stroke-width="0.9" stroke-linejoin="round"/>
<path d="M299.6,44 C300.6,49 300.6,55 299.8,59" fill="none" stroke="#aaa" stroke-width="0.8"/>
<g transform="translate(0,844.4)"><path d="M206.5,43.6 L202.2,43.8 Q199.5,44.3 199.5,47 L199.5,76.2 Q199.5,78.8 202.2,78.9 L267.2,78.9" fill="none" stroke="#333" stroke-width="1"/>
<rect x="206.2" y="43.7" width="60.4" height="7.5" fill="#fff" stroke="#333" stroke-width="0.9"/>
<circle cx="209.80" cy="46.2" r="1.2" fill="#bbb" stroke="#666" stroke-width="0.6"/>
<line x1="213.4" y1="43.7" x2="213.4" y2="51.2" stroke="#222" stroke-width="0.9"/>
<circle cx="217.05" cy="46.2" r="1.2" fill="#bbb" stroke="#666" stroke-width="0.6"/>
<line x1="220.7" y1="43.7" x2="220.7" y2="51.2" stroke="#222" stroke-width="0.9"/>
<circle cx="224.40" cy="46.2" r="1.2" fill="#bbb" stroke="#666" stroke-width="0.6"/>
<line x1="228.1" y1="43.7" x2="228.1" y2="51.2" stroke="#222" stroke-width="0.9"/>
<circle cx="231.75" cy="46.2" r="1.2" fill="#bbb" stroke="#666" stroke-width="0.6"/>
<line x1="235.4" y1="43.7" x2="235.4" y2="51.2" stroke="#222" stroke-width="0.9"/>
<circle cx="238.50" cy="46.2" r="1.2" fill="#bbb" stroke="#666" stroke-width="0.6"/>
<line x1="241.6" y1="43.7" x2="241.6" y2="51.2" stroke="#222" stroke-width="0.9"/>
<circle cx="244.60" cy="46.2" r="1.2" fill="#bbb" stroke="#666" stroke-width="0.6"/>
<line x1="247.6" y1="43.7" x2="247.6" y2="51.2" stroke="#222" stroke-width="0.9"/>
<circle cx="251.00" cy="46.2" r="1.2" fill="#bbb" stroke="#666" stroke-width="0.6"/>
<line x1="254.4" y1="43.7" x2="254.4" y2="51.2" stroke="#222" stroke-width="0.9"/>
<circle cx="257.60" cy="46.2" r="1.2" fill="#bbb" stroke="#666" stroke-width="0.6"/>
<line x1="260.8" y1="43.7" x2="260.8" y2="51.2" stroke="#222" stroke-width="0.9"/>
<circle cx="263.70" cy="46.2" r="1.2" fill="#bbb" stroke="#666" stroke-width="0.6"/>
<rect x="208.3" y="51.2" width="62.7" height="6" fill="#fff" stroke="#333" stroke-width="0.9"/>
<rect x="209.60" y="52.7" width="4.50" height="3" fill="none" stroke="#c8c8c8" stroke-width="0.6"/>
<line x1="215.4" y1="51.2" x2="215.4" y2="57.2" stroke="#222" stroke-width="0.9"/>
<rect x="216.70" y="52.7" width="4.40" height="3" fill="none" stroke="#c8c8c8" stroke-width="0.6"/>
<line x1="222.4" y1="51.2" x2="222.4" y2="57.2" stroke="#222" stroke-width="0.9"/>
<rect x="223.70" y="52.7" width="4.50" height="3" fill="none" stroke="#c8c8c8" stroke-width="0.6"/>
<line x1="229.5" y1="51.2" x2="229.5" y2="57.2" stroke="#222" stroke-width="0.9"/>
<rect x="230.80" y="52.7" width="4.40" height="3" fill="none" stroke="#c8c8c8" stroke-width="0.6"/>
<line x1="236.5" y1="51.2" x2="236.5" y2="57.2" stroke="#222" stroke-width="0.9"/>
<rect x="237.80" y="52.7" width="4.40" height="3" fill="none" stroke="#c8c8c8" stroke-width="0.6"/>
<line x1="243.5" y1="51.2" x2="243.5" y2="57.2" stroke="#222" stroke-width="0.9"/>
<rect x="244.80" y="52.7" width="4.30" height="3" fill="none" stroke="#c8c8c8" stroke-width="0.6"/>
<line x1="250.4" y1="51.2" x2="250.4" y2="57.2" stroke="#222" stroke-width="0.9"/>
<rect x="251.70" y="52.7" width="4.30" height="3" fill="none" stroke="#c8c8c8" stroke-width="0.6"/>
<line x1="257.3" y1="51.2" x2="257.3" y2="57.2" stroke="#222" stroke-width="0.9"/>
<rect x="258.60" y="52.7" width="4.40" height="3" fill="none" stroke="#c8c8c8" stroke-width="0.6"/>
<line x1="264.3" y1="51.2" x2="264.3" y2="57.2" stroke="#222" stroke-width="0.9"/>
<rect x="265.60" y="52.7" width="4.10" height="3" fill="none" stroke="#c8c8c8" stroke-width="0.6"/>
<rect x="209.0" y="57.2" width="63.4" height="8" fill="#fff" stroke="#333" stroke-width="0.9"/>
<rect x="209.0" y="57.6" width="63.4" height="2" fill="#cfcfcf"/>
<path d="M209.60,64.2 L210.80,60.2 L215.70,60.2 L215.70,64.2" fill="#fff" stroke="#333" stroke-width="0.7"/>
<line x1="216.0" y1="57.2" x2="216.0" y2="65.2" stroke="#222" stroke-width="0.9"/>
<path d="M216.60,64.2 L217.80,60.2 L222.70,60.2 L222.70,64.2" fill="#fff" stroke="#333" stroke-width="0.7"/>
<line x1="223.0" y1="57.2" x2="223.0" y2="65.2" stroke="#222" stroke-width="0.9"/>
<path d="M223.60,64.2 L224.80,60.2 L229.70,60.2 L229.70,64.2" fill="#fff" stroke="#333" stroke-width="0.7"/>
<line x1="230.0" y1="57.2" x2="230.0" y2="65.2" stroke="#222" stroke-width="0.9"/>
<path d="M230.60,64.2 L231.80,60.2 L236.70,60.2 L236.70,64.2" fill="#fff" stroke="#333" stroke-width="0.7"/>
<line x1="237.0" y1="57.2" x2="237.0" y2="65.2" stroke="#222" stroke-width="0.9"/>
<path d="M237.60,64.2 L238.80,60.2 L243.70,60.2 L243.70,64.2" fill="#fff" stroke="#333" stroke-width="0.7"/>
<line x1="244.0" y1="57.2" x2="244.0" y2="65.2" stroke="#222" stroke-width="0.9"/>
<path d="M244.60,64.2 L245.80,60.2 L250.70,60.2 L250.70,64.2" fill="#fff" stroke="#333" stroke-width="0.7"/>
<line x1="251.0" y1="57.2" x2="251.0" y2="65.2" stroke="#222" stroke-width="0.9"/>
<path d="M251.60,64.2 L252.80,60.2 L257.70,60.2 L257.70,64.2" fill="#fff" stroke="#333" stroke-width="0.7"/>
<line x1="258.0" y1="57.2" x2="258.0" y2="65.2" stroke="#222" stroke-width="0.9"/>
<path d="M258.60,64.2 L259.80,60.2 L264.70,60.2 L264.70,64.2" fill="#fff" stroke="#333" stroke-width="0.7"/>
<line x1="265.0" y1="57.2" x2="265.0" y2="65.2" stroke="#222" stroke-width="0.9"/>
<path d="M265.60,64.2 L266.80,60.2 L272.10,60.2 L272.10,64.2" fill="#fff" stroke="#333" stroke-width="0.7"/>
<line x1="209.0" y1="65" x2="272.4" y2="65" stroke="#111" stroke-width="1.7"/>
<rect x="208.8" y="65.8" width="62.7" height="3.6" fill="#fff" stroke="#333" stroke-width="0.9"/>
<line x1="210.60" y1="67.6" x2="214.10" y2="67.6" stroke="#aaa" stroke-width="0.6"/>
<line x1="215.9" y1="65.8" x2="215.9" y2="69.4" stroke="#222" stroke-width="0.9"/>
<line x1="217.70" y1="67.6" x2="221.10" y2="67.6" stroke="#aaa" stroke-width="0.6"/>
<line x1="222.9" y1="65.8" x2="222.9" y2="69.4" stroke="#222" stroke-width="0.9"/>
<line x1="224.70" y1="67.6" x2="228.20" y2="67.6" stroke="#aaa" stroke-width="0.6"/>
<line x1="230.0" y1="65.8" x2="230.0" y2="69.4" stroke="#222" stroke-width="0.9"/>
<line x1="231.80" y1="67.6" x2="235.20" y2="67.6" stroke="#aaa" stroke-width="0.6"/>
<line x1="237.0" y1="65.8" x2="237.0" y2="69.4" stroke="#222" stroke-width="0.9"/>
<line x1="238.80" y1="67.6" x2="242.20" y2="67.6" stroke="#aaa" stroke-width="0.6"/>
<line x1="244.0" y1="65.8" x2="244.0" y2="69.4" stroke="#222" stroke-width="0.9"/>
<line x1="245.80" y1="67.6" x2="249.10" y2="67.6" stroke="#aaa" stroke-width="0.6"/>
<line x1="250.9" y1="65.8" x2="250.9" y2="69.4" stroke="#222" stroke-width="0.9"/>
<line x1="252.70" y1="67.6" x2="256.00" y2="67.6" stroke="#aaa" stroke-width="0.6"/>
<line x1="257.8" y1="65.8" x2="257.8" y2="69.4" stroke="#222" stroke-width="0.9"/>
<line x1="259.60" y1="67.6" x2="263.00" y2="67.6" stroke="#aaa" stroke-width="0.6"/>
<line x1="264.8" y1="65.8" x2="264.8" y2="69.4" stroke="#222" stroke-width="0.9"/>
<line x1="266.60" y1="67.6" x2="269.70" y2="67.6" stroke="#aaa" stroke-width="0.6"/>
<rect x="206.8" y="69.4" width="60.4" height="9.5" fill="#fff" stroke="#333" stroke-width="0.9"/>
<path d="M209.15,76.2 L210.35,74.3 L211.55,76.2 A1.2,1.2 0 0 1 209.15,76.2 Z" fill="#aaa" stroke="#666" stroke-width="0.5"/>
<line x1="213.9" y1="69.4" x2="213.9" y2="78.9" stroke="#222" stroke-width="0.9"/>
<path d="M216.35,76.2 L217.55,74.3 L218.75,76.2 A1.2,1.2 0 0 1 216.35,76.2 Z" fill="#aaa" stroke="#666" stroke-width="0.5"/>
<line x1="221.2" y1="69.4" x2="221.2" y2="78.9" stroke="#222" stroke-width="0.9"/>
<path d="M223.60,76.2 L224.80,74.3 L226.00,76.2 A1.2,1.2 0 0 1 223.60,76.2 Z" fill="#aaa" stroke="#666" stroke-width="0.5"/>
<line x1="228.4" y1="69.4" x2="228.4" y2="78.9" stroke="#222" stroke-width="0.9"/>
<path d="M230.75,76.2 L231.95,74.3 L233.15,76.2 A1.2,1.2 0 0 1 230.75,76.2 Z" fill="#aaa" stroke="#666" stroke-width="0.5"/>
<line x1="235.5" y1="69.4" x2="235.5" y2="78.9" stroke="#222" stroke-width="0.9"/>
<path d="M237.45,76.2 L238.65,74.3 L239.85,76.2 A1.2,1.2 0 0 1 237.45,76.2 Z" fill="#aaa" stroke="#666" stroke-width="0.5"/>
<line x1="241.8" y1="69.4" x2="241.8" y2="78.9" stroke="#222" stroke-width="0.9"/>
<path d="M243.85,76.2 L245.05,74.3 L246.25,76.2 A1.2,1.2 0 0 1 243.85,76.2 Z" fill="#aaa" stroke="#666" stroke-width="0.5"/>
<line x1="248.3" y1="69.4" x2="248.3" y2="78.9" stroke="#222" stroke-width="0.9"/>
<path d="M250.30,76.2 L251.50,74.3 L252.70,76.2 A1.2,1.2 0 0 1 250.30,76.2 Z" fill="#aaa" stroke="#666" stroke-width="0.5"/>
<line x1="254.7" y1="69.4" x2="254.7" y2="78.9" stroke="#222" stroke-width="0.9"/>
<path d="M256.80,76.2 L258.00,74.3 L259.20,76.2 A1.2,1.2 0 0 1 256.80,76.2 Z" fill="#aaa" stroke="#666" stroke-width="0.5"/>
<line x1="261.3" y1="69.4" x2="261.3" y2="78.9" stroke="#222" stroke-width="0.9"/>
<path d="M263.05,76.2 L264.25,74.3 L265.45,76.2 A1.2,1.2 0 0 1 263.05,76.2 Z" fill="#aaa" stroke="#666" stroke-width="0.5"/>
<path d="M238.5,61 L238.5,88.6 Q237.2,90.5 238.4,93.5 Q240.5,99 241.6,104 Q242.4,109 242,114.2 L257.4,114.2 Q257.3,109.5 258.5,106.5 Q260.5,103 261.6,100.2 Q263.8,95 263.4,91 Q263,87.5 262.2,86.6 Q260.6,84.6 258.6,84.8 Q257.6,81.6 255.4,81 Q254.2,80.8 253.3,82.1 L251.6,79.3 Q250.5,78.5 248.3,79 L244.6,84.4 L243.8,84.6 L243.8,61 Z" fill="#fff" stroke="none"/>
<path d="M238.5,61 L238.5,88.6 Q237.2,90.5 238.4,93.5 Q240.5,99 241.6,104 Q242.4,109 242,114.2 M257.4,114.2 Q257.3,109.5 258.5,106.5 Q260.5,103 261.6,100.2 Q263.8,95 263.4,91 Q263,87.5 262.2,86.6 Q260.6,84.6 258.6,84.8 Q257.6,81.6 255.4,81 Q254.2,80.8 253.3,82.1 L251.6,79.3 Q250.5,78.5 248.3,79 L244.6,84.4 L243.8,84.6 L243.8,61" fill="none" stroke="#333" stroke-width="0.95" stroke-linejoin="round"/>
<path d="M253.3,82.1 L252.2,86.4 M258.6,84.8 L257.8,88.4" fill="none" stroke="#444" stroke-width="0.8"/>
<circle cx="241.1" cy="59.9" r="2.2" fill="#fff" stroke="#111" stroke-width="1.1"/>
<path d="M240,65.8 L242,65.8" stroke="#777" stroke-width="0.8"/>
<path d="M239.6,76.3 L242.6,76.3 M239.8,77.6 Q241.1,78.6 242.4,77.6" fill="none" stroke="#666" stroke-width="0.7"/></g>
<g transform="translate(0,968) scale(1,-1)"><path d="M297.6,39.4 C299.8,39.4 301.6,45.5 301.4,51.5 C301.1,58 298.2,66 295,73 L299.6,74.6 L285.5,80.6 L291.4,67.4 L292.6,69 C295.6,63 298.4,57 298.3,51 C298.2,46 295.6,42.5 296.2,40.6 Q296.6,39.4 297.6,39.4 Z" fill="#fff" stroke="#333" stroke-width="0.9" stroke-linejoin="round"/><path d="M299.6,44 C300.6,49 300.6,55 299.8,59" fill="none" stroke="#aaa" stroke-width="0.8"/></g>
<g>
<path d="M637.5,44.6 L659,44.4 L666.8,40.8 L667.8,44.4 L681.2,44.4 L681.2,42.8 L683.2,42.8 L683.2,55.4 L681.2,55.4 L681.2,54 L667.8,54 L666.8,57.6 L659,54 L637.5,54 Q635,53.8 635,49.3 Q635,44.8 637.5,44.6 Z" fill="#111"/>
<path d="M637.6,46.8 L640.6,46.8 M642.4,46.8 L645.6,46.8 M647.4,46.8 L650.6,46.8 M652.4,46.8 L655.6,46.8 M657.4,46.8 L660.2,46.8 M637.6,51.6 L640.6,51.6 M642.4,51.6 L645.6,51.6 M647.4,51.6 L650.6,51.6 M652.4,51.6 L655.6,51.6 M657.4,51.6 L660.2,51.6" stroke="#fff" stroke-width="1.9"/>
<path d="M663,46.6 L666,46.6 M663,51.6 L666,51.6 M669.5,48 L672,48 M669.5,51 L672,51" stroke="#ddd" stroke-width="0.8"/>
<rect x="678" y="45.8" width="2.4" height="6.4" fill="#fff"/>
</g>
<text x="660.9" y="68.7" font-size="7.6" fill="#222">x2</text>
<g transform="translate(634.3,72.8) rotate(7.3)">
<path d="M0,0 Q2,-2.6 5,-2.8 L52.5,-2.9 L52.5,2.9 L5,2.8 Q2,2.6 0,0 Z" fill="#111"/>
<path d="M6,-0.8 L8,-0.8 M10,0.8 L12,0.8 M14,-0.8 L16,-0.8 M18,0.8 L20,0.8 M22,-0.8 L24,-0.8 M26,0.8 L28,0.8 M30,-0.8 L32,-0.8 M34,0.8 L36,0.8 M38,-0.8 L40,-0.8 M42,0.8 L44,0.8 M46,-0.8 L48,-0.8" stroke="#999" stroke-width="0.9"/>
<ellipse cx="53.3" cy="0" rx="1.7" ry="3.2" fill="#fff" stroke="#111" stroke-width="1"/>
</g>
<g stroke="#111" stroke-width="1" fill="#fff" stroke-linejoin="round" stroke-linecap="round">
<path d="M716.3,53.2 L727.6,55 L727.6,57.6 L716.3,56.2 Q714.8,54.7 716.3,53.2 Z" fill="#222"/>
<path d="M727.4,54.6 L730.6,53.4 Q730,57.5 730.8,61.2 L727.6,58.4 Z"/>
<path d="M730.6,53.4 Q734.5,50.6 740.8,52.2 Q741.6,60 741.2,67.6 Q735.5,68.2 730.8,61.2 Q730,57.5 730.6,53.4 Z"/>
<path d="M740.8,52.2 Q744.5,52 746.6,54 Q747.4,61.5 746.8,69.4 Q743.5,69.6 741.2,67.6 Q741.6,60 740.8,52.2 Z"/>
<path d="M746.4,54.2 L754.4,53.4 L784.8,60.6 L785.6,75 L773.6,76 L747.2,69.4 Z"/>
<path d="M750.5,56.2 L776,63 L784.9,61" fill="none" stroke-width="1.1"/>
<path d="M754.4,53.4 L784.8,60.6" fill="none" stroke-width="1.6"/>
<path d="M748,61.8 L774.4,66.6 M776,63 L776,76" fill="none"/>
<path d="M775.8,71 L785.4,69.6 M775.6,75.4 L785.5,74" fill="none" stroke-width="0.9"/>
<path d="M766.6,76.2 L773.6,76 L785.6,75 L792.4,114.4 L776,112 L767.8,88 L766.9,83 Z"/>
<path d="M766.9,77 L766.9,83 L774,83.6 L775,77 M774,83.6 L778,88.9 L781.4,113.6 M781,80 L783,83.8 L789.9,112.7 M767.8,88 L778,88.9" fill="none" stroke-width="0.9"/>
<line x1="785.6" y1="75" x2="792.4" y2="114.4" stroke-width="1.6"/>
<path d="M766,115.3 L768.6,113.1 L794.5,114.2 L795,114.8 L784.3,117.8 Z"/>
<path d="M766,115.3 L784.3,117.8 L784.3,139.5 L766,135.7 Z"/>
<path d="M784.3,117.8 L795,114.8 L795,135.7 L784.3,139.5 Z"/>
<path d="M766,135.7 L784.3,139.5 L795,135.7" fill="none" stroke-width="1.8"/>
<line x1="784.3" y1="118" x2="784.3" y2="139" stroke="#888" stroke-width="2.2"/>
<line x1="783.2" y1="118" x2="783.2" y2="139" stroke="#222" stroke-width="0.8"/>
<line x1="785.4" y1="118" x2="785.4" y2="139" stroke="#222" stroke-width="0.8"/>
</g>
<g stroke="#333" stroke-width="0.9" fill="#fff">
<rect x="270.3" y="168.2" width="5.5" height="35.4"/>
<rect x="270.3" y="306.3" width="5.5" height="35.2"/>
</g>
<g fill="none" stroke-linecap="round">
<path d="M272,204.2 L263,217.5 Q262.5,219 262.5,221 L262.5,225.6 M274.4,204.2 L282.1,217.5 Q282.5,219 282.5,221 L282.5,225.6" stroke="#444" stroke-width="2.8"/>
<path d="M272,204.2 L263,217.5 Q262.5,219 262.5,221 L262.5,225.6 M274.4,204.2 L282.1,217.5 Q282.5,219 282.5,221 L282.5,225.6" stroke="#fff" stroke-width="1"/>
<path d="M262.5,226.2 L262.5,232.6 M282.5,226.2 L282.5,232.6" stroke="#333" stroke-width="2.2" stroke-linecap="butt"/>
<path d="M263.2,284.8 L263.6,288 L271.8,306 M282.6,284.8 L282.2,288 L274.2,306" stroke="#444" stroke-width="2.8"/>
<path d="M263.2,284.8 L263.6,288 L271.8,306 M282.6,284.8 L282.2,288 L274.2,306" stroke="#fff" stroke-width="1"/>
</g>
<path d="M257.4,242.6 L270.5,242.6 L270.5,261 L275.4,261 L275.4,242.6 L287.7,242.6 L287.7,284.6 L275.4,284.6 L275.4,266 L270.5,266 L270.5,284.6 L257.4,284.6 Z" fill="#fff" stroke="#333" stroke-width="1"/>
<circle cx="272.9" cy="263.5" r="0.6" fill="#333"/>

<circle cx="263.7" cy="255.7" r="5.1" fill="#fff" stroke="#555" stroke-width="0.9"/><circle cx="263.7" cy="255.7" r="3.7" fill="none" stroke="#444" stroke-width="0.8"/><line x1="263.7" y1="252.7" x2="263.7" y2="258.7" stroke="#111" stroke-width="1.4"/>
<circle cx="282.1" cy="255.7" r="5.1" fill="#fff" stroke="#555" stroke-width="0.9"/><circle cx="282.1" cy="255.7" r="3.7" fill="none" stroke="#444" stroke-width="0.8"/><line x1="282.1" y1="252.7" x2="282.1" y2="258.7" stroke="#111" stroke-width="1.4"/>
<circle cx="263.7" cy="270.7" r="5.1" fill="#fff" stroke="#555" stroke-width="0.9"/><circle cx="263.7" cy="270.7" r="3.7" fill="none" stroke="#444" stroke-width="0.8"/><line x1="263.7" y1="267.7" x2="263.7" y2="273.7" stroke="#111" stroke-width="1.4"/>
<circle cx="282.1" cy="270.7" r="5.1" fill="#fff" stroke="#555" stroke-width="0.9"/><circle cx="282.1" cy="270.7" r="3.7" fill="none" stroke="#444" stroke-width="0.8"/><line x1="282.1" y1="267.7" x2="282.1" y2="273.7" stroke="#111" stroke-width="1.4"/>
<g fill="#222" font-size="8" stroke="#222" stroke-width="0.15">
<text x="251" y="240.5">N</text><text x="285.3" y="240.5">L</text>
<text x="251" y="295.9">N</text><text x="285.3" y="295.9">L</text>
</g>
<g fill="none" stroke="#555" stroke-width="0.9">
<circle cx="260.7" cy="430.7" r="8"/>
<line x1="260.7" y1="424.6" x2="260.7" y2="432.2"/>
<line x1="255.6" y1="432.4" x2="265.8" y2="432.4"/>
<line x1="256.8" y1="434.4" x2="264.6" y2="434.4"/>
<line x1="258.2" y1="436.3" x2="263.2" y2="436.3"/>
</g>
<path d="M266.8,444.8 Q269.5,451.5 273,456 Q276.4,460.5 276.2,466 L276.2,473" fill="none" stroke="#444" stroke-width="2.3"/>
<path d="M266.8,444.8 Q269.5,451.5 273,456 Q276.4,460.5 276.2,466 L276.2,470" fill="none" stroke="#fff" stroke-width="0.8"/>
<g stroke="#333" stroke-width="0.9" fill="#fff">
<path d="M252.3,505.5 Q252.3,502.8 255,502.8 L290.2,502.8 Q292.9,502.8 292.9,505.5 L292.9,531 A20.3,21.4 0 0 1 252.3,531 Z"/>
<line x1="253" y1="505.2" x2="292.2" y2="505.2" stroke="#777" stroke-width="0.7"/>
<rect x="259.5" y="484.7" width="1.8" height="7.4"/>
<rect x="284" y="484.7" width="1.8" height="7.4"/>
<rect x="261.2" y="478.9" width="23" height="19"/>
<rect x="262.4" y="497.8" width="21" height="5" fill="#bbb" stroke="#222"/>
<line x1="262.4" y1="500.2" x2="283.4" y2="500.2" stroke="#555" stroke-width="0.7"/>
<circle cx="272.6" cy="488.3" r="8" />
<circle cx="272.6" cy="488.3" r="6" stroke-width="0.8"/>
<circle cx="272.6" cy="488.3" r="4.2" stroke-width="0.8"/>
<path d="M272.6,484.3 L272.6,492.3 M268.6,488.3 L276.6,488.3" stroke="#222" stroke-width="1.2"/>
<circle cx="272.6" cy="536.2" r="12.3" stroke-width="1"/>
<circle cx="262.3" cy="513.7" r="4.9" stroke="#555" stroke-width="0.8"/>
<circle cx="262.3" cy="513.7" r="3.6" stroke="#777" stroke-width="0.6"/>
<path d="M262.3,510.5 L262.3,514.8 M259.8,514.8 L264.8,514.8 M260.6,516.2 L264,516.2" stroke="#444" stroke-width="0.7" fill="none"/>
</g>
</svg>
</body></html>
